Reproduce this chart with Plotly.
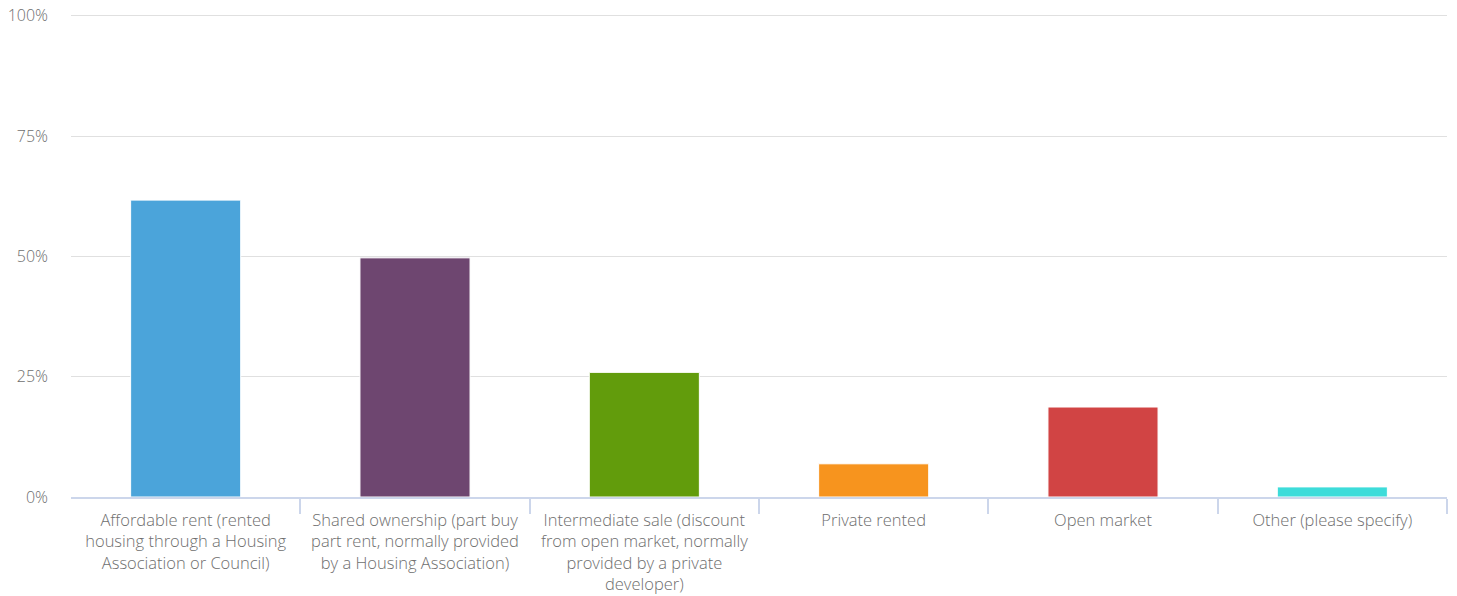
import plotly.graph_objects as go

categories = [
    "Affordable rent (rented<br>housing through a Housing<br>Association or Council)",
    "Shared ownership (part buy<br>part rent, normally provided<br>by a Housing Association)",
    "Intermediate sale (discount<br>from open market, normally<br>provided by a private<br>developer)",
    "Private rented",
    "Open market",
    "Other (please specify)",
]
values = [61.7, 49.7, 25.9, 6.9, 18.7, 2.1]
colors = ["#4BA4DA", "#6E4670", "#629C0C", "#F7941E", "#D14444", "#3DDCDA"]
y_ticks = [0, 25, 50, 75, 100]
y_ticklabels = ["0%", "25%", "50%", "75%", "100%"]

xs = list(range(len(categories)))
boundaries = [i + 0.5 for i in xs]

label_font = dict(family="Open Sans", size=16, color="#6e6e6e", weight=300)
x_font = dict(family="Open Sans", size=16.5, color="#6e6e6e", weight=300)

fig = go.Figure(
    go.Bar(
        x=xs,
        y=values,
        marker=dict(color=colors, line=dict(color="#ffffff", width=1)),
        width=0.48,
        hoverinfo="y",
    )
)

fig.update_layout(
    width=1457,
    height=596,
    margin=dict(l=71, r=10, t=11, b=99),
    paper_bgcolor="#ffffff",
    plot_bgcolor="#ffffff",
    font=label_font,
    showlegend=False,
)

fig.update_xaxes(
    range=[-0.5, len(categories) - 0.5],
    tickvals=xs,
    ticktext=categories,
    tickangle=0,
    ticks="",
    showgrid=False,
    zeroline=False,
    showline=True,
    linecolor="#ccd6eb",
    linewidth=2,
    ticklabelstandoff=7,
    automargin=False,
    tickfont=x_font,
    minor=dict(tickvals=boundaries, ticks="outside", ticklen=15, tickcolor="#ccd6eb", tickwidth=2, showgrid=False),
)

fig.update_yaxes(
    range=[0, 101],
    tickvals=y_ticks,
    ticktext=y_ticklabels,
    ticks="",
    showgrid=True,
    gridcolor="#e0e0e0",
    gridwidth=1,
    zeroline=False,
    showline=False,
    ticklabelstandoff=22,
    automargin=False,
    tickfont=label_font,
)

fig.write_html(
    "out.html",
    config={"displayModeBar": False},
    post_script="document.body.style.margin='0px';document.body.style.overflow='hidden';",
)
